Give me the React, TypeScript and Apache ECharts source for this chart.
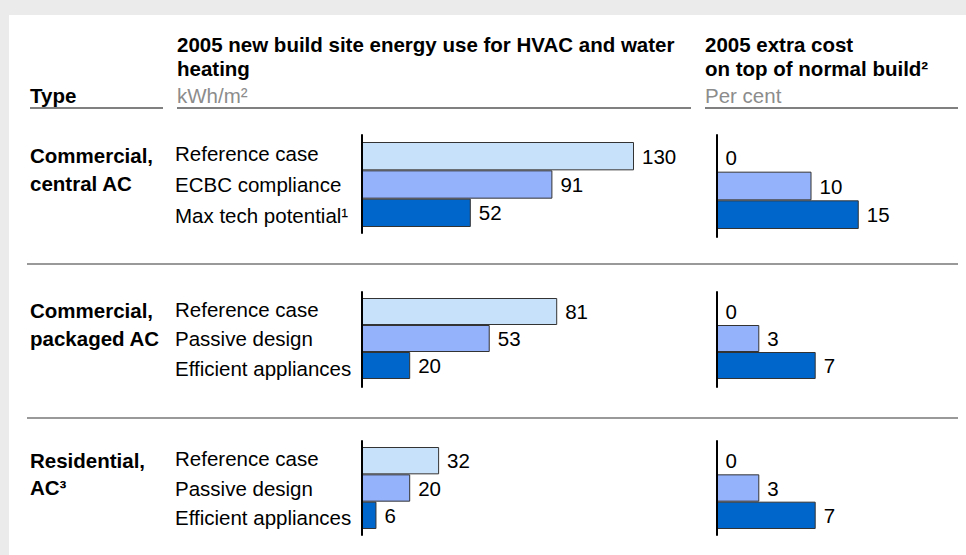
import React, { useEffect, useRef } from "react";
import * as echarts from "echarts";

// ---- data ----
const row1Categories = ["Reference case", "ECBC compliance", "Max tech potential¹"];
const row1Energy = [130, 91, 52];
const row1Cost = [0, 10, 15];

const row2Categories = ["Reference case", "Passive design", "Efficient appliances"];
const row2Energy = [81, 53, 20];
const row2Cost = [0, 3, 7];

const row3Categories = ["Reference case", "Passive design", "Efficient appliances"];
const row3Energy = [32, 20, 6];
const row3Cost = [0, 3, 7];

const typeLabels = [
  ["Commercial,", "central AC"],
  ["Commercial,", "packaged AC"],
  ["Residential,", "AC³"],
];

const energyTitle = ["2005 new build site energy use for HVAC and water", "heating"];
const energyUnit = "kWh/m²";
const costTitle = ["2005 extra cost", "on top of normal build²"];
const costUnit = "Per cent";

const barColors = ["#c8e1fa", "#94b1fb", "#0066cc"];
const FONT = '"Liberation Sans", Arial, Helvetica, sans-serif';
const FS = 20.5;

type Panel = {
  left: number;
  top: number;
  height: number;
  width: number;
  max: number;
  axisTop: number;
  axisHeight: number;
  cats: string[];
  vals: number[];
  showLabels: boolean;
};

export default function App() {
  const ref = useRef<HTMLDivElement>(null);

  useEffect(() => {
    if (!ref.current) return;
    const chart = echarts.init(ref.current, undefined, { renderer: "svg" });

    const panels: Panel[] = [
      { left: 362, top: 142, height: 85, width: 272, max: 130, axisTop: 135, axisHeight: 98, cats: row1Categories, vals: row1Energy, showLabels: true },
      { left: 362, top: 298, height: 81, width: 241, max: 100, axisTop: 292, axisHeight: 95, cats: row2Categories, vals: row2Energy, showLabels: true },
      { left: 362, top: 447, height: 82, width: 241, max: 100, axisTop: 441, axisHeight: 94, cats: row3Categories, vals: row3Energy, showLabels: true },
      { left: 717, top: 143, height: 86, width: 189, max: 20, axisTop: 135, axisHeight: 102, cats: row1Categories, vals: row1Cost, showLabels: false },
      { left: 717, top: 298, height: 81, width: 141, max: 10, axisTop: 292, axisHeight: 95, cats: row2Categories, vals: row2Cost, showLabels: false },
      { left: 717, top: 447, height: 82, width: 141, max: 10, axisTop: 441, axisHeight: 94, cats: row3Categories, vals: row3Cost, showLabels: false },
    ];

    const grid: any[] = [];
    const xAxis: any[] = [];
    const yAxis: any[] = [];
    const series: any[] = [];

    panels.forEach((p) => {
      // bar grid
      const gi = grid.length;
      grid.push({ left: p.left, top: p.top, width: p.width, height: p.height, containLabel: false });
      xAxis.push({ type: "value", gridIndex: gi, min: 0, max: p.max, show: false });
      yAxis.push({
        type: "category",
        gridIndex: gi,
        inverse: true,
        data: p.cats,
        axisLine: { show: false },
        axisTick: { show: false },
        axisLabel: {
          show: p.showLabels,
          interval: 0,
          hideOverlap: false,
          align: "left",
          margin: 187,
          fontSize: FS,
          color: "#000",
          fontFamily: FONT,
          formatter: (v: string, i: number) =>
            i === 0 ? `{u|${v}}` : i === 2 ? `{d|${v}}` : `{m|${v}}`,
          rich: {
            u: { fontSize: FS, fontFamily: FONT, color: "#000", padding: [0, 0, 5, 0] },
            m: { fontSize: FS, fontFamily: FONT, color: "#000" },
            d: { fontSize: FS, fontFamily: FONT, color: "#000", padding: [5, 0, 0, 0] },
          },
        },
      });
      series.push({
        type: "bar",
        xAxisIndex: gi,
        yAxisIndex: gi,
        barCategoryGap: "0%",
        data: p.vals.map((v, i) => ({ value: v, itemStyle: { color: barColors[i] } })),
        itemStyle: { borderColor: "#333", borderWidth: 1 },
        label: {
          show: true,
          position: "right",
          distance: 8,
          fontSize: FS,
          color: "#000",
          fontFamily: FONT,
        },
        z: 3,
      });
      // axis-line grid
      const ai = grid.length;
      grid.push({ left: p.left, top: p.axisTop, width: p.width, height: p.axisHeight });
      xAxis.push({ type: "value", gridIndex: ai, show: false });
      yAxis.push({
        type: "category",
        gridIndex: ai,
        data: [""],
        axisLine: { show: true, lineStyle: { color: "#000", width: 2 } },
        axisTick: { show: false },
        axisLabel: { show: false },
        z: 5,
      });
    });

    const txt = (x: number, y: number, text: string, opts: any = {}) => ({
      type: "text",
      x,
      y,
      z: 10,
      style: {
        text,
        fill: opts.fill || "#000",
        fontSize: FS,
        fontWeight: opts.bold ? "bold" : "normal",
        fontFamily: FONT,
        align: "left",
        verticalAlign: "middle",
      },
    });
    const hline = (x1: number, x2: number, y: number, color: string) => ({
      type: "line",
      z: 9,
      shape: { x1, y1: y, x2, y2: y },
      style: { stroke: color, lineWidth: 2 },
    });

    const graphic: any[] = [
      { type: "rect", z: -10, shape: { x: 9, y: 15, width: 957, height: 540 }, style: { fill: "#fff" } },
      txt(30, 95, "Type", { bold: true }),
      txt(177, 44, energyTitle[0], { bold: true }),
      txt(177, 68, energyTitle[1], { bold: true }),
      txt(177, 95, energyUnit, { fill: "#8c8c8c" }),
      txt(705, 44, costTitle[0], { bold: true }),
      txt(705, 68, costTitle[1], { bold: true }),
      txt(705, 95, costUnit, { fill: "#8c8c8c" }),
      hline(30, 163, 108, "#808080"),
      hline(177, 691, 108, "#808080"),
      hline(705, 958, 108, "#808080"),
      hline(27, 958, 264, "#999"),
      hline(27, 958, 418, "#999"),
      txt(30, 155, typeLabels[0][0], { bold: true }),
      txt(30, 183, typeLabels[0][1], { bold: true }),
      txt(30, 310, typeLabels[1][0], { bold: true }),
      txt(30, 338, typeLabels[1][1], { bold: true }),
      txt(30, 460, typeLabels[2][0], { bold: true }),
      txt(30, 487, typeLabels[2][1], { bold: true }),
    ];

    chart.setOption({
      animation: false,
      backgroundColor: "#ebebeb",
      grid,
      xAxis,
      yAxis,
      series,
      graphic,
    });

    return () => chart.dispose();
  }, []);

  return (
    <div
      ref={ref}
      style={{ position: "absolute", left: 0, top: 0, width: 966, height: 555 }}
    />
  );
}
